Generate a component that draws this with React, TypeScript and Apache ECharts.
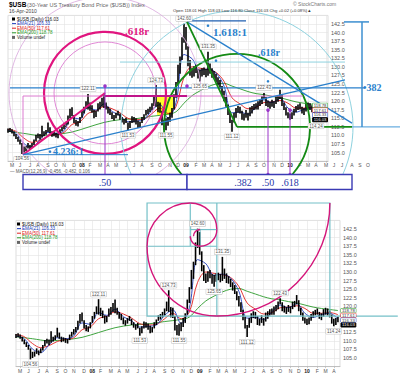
import React, { useEffect, useRef } from 'react';
import * as echarts from 'echarts';

// ---------------- DATA ----------------
// weekly ranges of $USB, week 0 = 20-Apr-2007, week 156 = 16-Apr-2010
const weekLow = [
  110.8, 111.0, 110.6, 109.8, 109.0, 108.2, 107.4, 104.6, 105.0, 105.4,
  106.2, 105.8, 106.4, 107.2, 108.4, 109.2, 108.8, 109.4, 109.8, 110.2,
  111.0, 110.6, 109.6, 109.8, 109.4, 109.2, 110.2, 111.2, 111.8, 112.4,
  113.2, 115.0, 115.6, 113.6, 112.8, 112.6, 113.6, 115.2, 116.4, 117.8,
  117.6, 117.2, 116.6, 115.0, 115.4, 117.0, 117.6, 118.4, 118.0, 117.6,
  116.4, 116.0, 114.8, 114.4, 115.0, 115.8, 114.6, 113.8, 113.2, 113.6,
  111.5, 112.2, 113.6, 113.8, 113.2, 112.2, 112.4, 113.6, 114.6, 115.8,
  116.2, 116.8, 117.4, 118.6, 118.4, 116.8, 116.6, 113.0, 111.6, 111.5,
  112.8, 114.0, 115.2, 117.6, 121.0, 125.0, 128.0, 132.0, 137.0, 135.0,
  130.2, 127.4, 126.8, 127.2, 128.2, 126.6, 125.7, 127.2, 127.6, 127.0,
  127.4, 128.0, 126.8, 126.6, 125.6, 124.6, 123.6, 121.8, 120.0, 118.4,
  116.0, 113.6, 111.1, 113.8, 115.2, 116.6, 116.4, 114.6, 114.4, 115.2,
  114.4, 115.6, 116.4, 117.4, 117.6, 117.6, 118.6, 119.2, 120.6, 118.6,
  118.2, 117.8, 118.4, 118.0, 119.2, 119.8, 120.6, 118.6, 117.4, 115.8,
  115.0, 114.6, 114.8, 115.8, 116.8, 117.4, 117.6, 116.4, 116.0, 117.0,
  117.6, 117.4, 116.8, 115.0, 114.2, 114.6, 115.4,
];
const weekHigh = [
  112.0, 112.2, 111.8, 111.2, 110.4, 109.6, 108.8, 107.8, 106.8, 106.9,
  107.8, 107.2, 107.8, 108.8, 110.2, 110.6, 110.4, 112.8, 111.2, 111.6,
  113.8, 112.4, 111.2, 111.0, 110.8, 110.5, 111.8, 112.6, 113.4, 114.0,
  115.8, 117.8, 118.2, 116.0, 114.6, 114.2, 115.4, 117.2, 118.4, 120.0,
  122.1, 119.6, 118.8, 117.4, 117.2, 119.4, 119.8, 121.0, 122.0, 119.6,
  118.4, 117.8, 116.8, 116.0, 116.6, 117.2, 116.4, 115.4, 114.8, 115.2,
  113.8, 114.2, 115.6, 115.4, 115.0, 114.4, 114.0, 115.4, 116.2, 117.4,
  117.8, 118.4, 119.4, 121.4, 124.7, 119.8, 119.6, 117.2, 114.6, 115.0,
  115.4, 116.6, 118.0, 122.0, 125.6, 130.6, 133.0, 138.6, 142.6, 141.6,
  136.0, 132.0, 129.6, 130.2, 130.6, 129.4, 129.2, 129.6, 129.8, 129.4,
  134.4, 131.0, 129.6, 128.8, 128.0, 127.0, 126.2, 124.4, 123.0, 121.2,
  119.0, 117.0, 114.6, 116.6, 118.0, 118.6, 118.4, 117.2, 116.4, 117.4,
  116.6, 118.2, 118.6, 119.2, 119.4, 120.0, 120.4, 121.4, 122.4, 121.2,
  120.2, 119.8, 120.4, 120.0, 121.4, 121.6, 123.3, 121.8, 119.6, 118.2,
  116.8, 116.4, 116.8, 117.8, 118.6, 119.0, 119.4, 118.4, 118.0, 119.2,
  119.6, 119.4, 118.8, 117.6, 116.4, 116.6, 117.0,
];
// moving averages: [week, value]
const ema21 = [
  [0, 111.4], [4, 110.6], [8, 107.6], [12, 106.6], [16, 108.8], [20, 110.9], [24, 110.6],
  [28, 111.4], [32, 115.2], [36, 114.8], [40, 118.2], [44, 117.4], [48, 119.2], [52, 117.0],
  [56, 115.8], [60, 114.0], [64, 114.2], [68, 114.6], [72, 117.4], [76, 119.0], [80, 115.0],
  [84, 119.6], [88, 133.6], [92, 132.4], [96, 129.0], [100, 129.4], [104, 128.2], [108, 124.4],
  [112, 116.6], [116, 116.8], [120, 116.2], [124, 118.4], [128, 120.4], [132, 119.6],
  [136, 120.8], [140, 118.0], [144, 116.8], [148, 117.6], [152, 118.0], [156, 116.3],
];
const ema50 = [
  [0, 111.8], [4, 111.2], [8, 109.2], [12, 108.0], [16, 108.6], [20, 109.8], [24, 110.4],
  [28, 110.9], [32, 113.2], [36, 114.0], [40, 116.4], [44, 117.2], [48, 118.4], [52, 117.8],
  [56, 116.6], [60, 115.0], [64, 114.6], [68, 114.8], [72, 116.4], [76, 118.0], [80, 116.4],
  [84, 118.4], [88, 127.0], [92, 130.0], [96, 129.6], [100, 129.2], [104, 128.4], [108, 125.8],
  [112, 121.0], [116, 119.2], [120, 117.8], [124, 118.2], [128, 119.6], [132, 119.8],
  [136, 120.2], [140, 119.4], [144, 118.0], [148, 118.0], [152, 118.2], [156, 117.6],
];
const ema200 = [
  [0, 111.2], [8, 110.6], [16, 110.0], [24, 110.3], [32, 111.0], [40, 112.4], [48, 113.8],
  [56, 114.6], [64, 114.9], [72, 115.6], [80, 116.2], [84, 116.9], [88, 119.4], [92, 121.6],
  [96, 123.0], [100, 124.2], [104, 125.0], [108, 125.2], [112, 124.4], [116, 123.6],
  [120, 122.8], [124, 122.2], [128, 121.9], [132, 121.4], [136, 121.0], [140, 120.4],
  [144, 119.8], [148, 119.4], [152, 119.1], [156, 118.8],
];
const monthTickWeeks = [2, 6, 11, 15, 20, 24, 28, 33, 37, 41, 46, 50, 54, 59, 63, 67, 72, 76, 81, 85,
  89, 94, 98, 102, 106, 111, 115, 120, 124, 128, 133, 137, 141, 146, 150, 154, 159];
const monthTickLabels = ['M', 'J', 'J', 'A', 'S', 'O', 'N', 'D', '08', 'F', 'M', 'A', 'M', 'J', 'J', 'A', 'S', 'O', 'N', 'D',
  '09', 'F', 'M', 'A', 'M', 'J', 'J', 'A', 'S', 'O', 'N', 'D', '10', 'F', 'M', 'A', 'M'];
const futureMonthWeeks = [163, 167, 172, 176, 180];
const futureMonthLabels = ['J', 'J', 'A', 'S', 'O'];
const extremes = [
  { w: 7, p: 104.6, text: '104.56', up: false },
  { w: 40, p: 122.1, text: '122.11', up: true },
  { w: 60, p: 111.5, text: '111.53', up: false },
  { w: 74, p: 124.7, text: '124.73', up: true },
  { w: 79, p: 111.5, text: '111.55', up: false },
  { w: 88, p: 142.6, text: '142.60', up: true },
  { w: 96, p: 125.7, text: '125.65', up: false },
  { w: 100, p: 134.4, text: '131.35', up: true },
  { w: 112, p: 111.1, text: '111.12', up: false },
  { w: 128, p: 122.4, text: '122.43', up: true },
  { w: 154, p: 114.2, text: '114.24', up: false },
];
const lastValues = [
  { name: 'EMA(200)', v: 118.78, color: '#2a9a2a' },
  { name: 'EMA(50)', v: 117.61, color: '#e02020' },
  { name: 'EMA(21)', v: 116.33, color: '#2040c0' },
  { name: '$USB', v: 116.03, color: '#000000' },
];
// price ticks hidden behind the last-value flags on the lower chart
const lowerHiddenTicks = [117.5, 115];
// Fibonacci drawing anchors (week, price) on the upper chart
const fibLow = [7.5, 104.4];
const fibMarch = [48.5, 122.4];
const fibTop = [89.5, 143.1];
const fibPivot = [114.5, 112.5];
// golden rectangle on the lower chart (week, price)
const spiralCornerA = [63.5, 150.06];
const spiralCornerB = [152.1, 117.2];

// ---------------- STYLE ----------------
const SANS = 'Liberation Sans';
const SERIF = 'Liberation Serif';
const GRID_C = '#e3e3e3';
const C_MAG = '#e0157f';
const C_BLUE = '#2a80cc';
const C_GREEN = '#148a14';
const C_CYAN = '#8ed2df';
const C_PURPLE = '#9a35c8';
const C_PINK = '#dc7ad0';
const C_BOX = '#3a3ab4';

const tickMap = new Map<number, string>(monthTickWeeks.map((w, i) => [w, monthTickLabels[i]]));
const upperCats = Array.from({ length: 161 }, (_, i) => String(i));
const lowerCats = Array.from({ length: 158 }, (_, i) => String(i));

function xAxisFor(gridIndex: number, cats: string[]) {
  return {
    type: 'category', gridIndex, data: cats, boundaryGap: false,
    axisLine: { show: true, lineStyle: { color: '#aaa', width: 0.6 } },
    axisTick: { show: true, interval: (i: number) => tickMap.has(i), length: 1.5, lineStyle: { color: '#aaa', width: 0.6 } },
    axisLabel: {
      interval: (i: number) => tickMap.has(i),
      formatter: (_v: string, i: number) => {
        const s = tickMap.get(i) || '';
        return /^\d\d$/.test(s) ? `{y|${s}}` : s;
      },
      fontSize: 5, color: '#555', margin: 1.5, fontFamily: SANS,
      rich: { y: { fontWeight: 'bold', fontSize: 5, color: '#222', fontFamily: SANS } },
    },
    splitLine: { show: true, interval: (i: number) => tickMap.has(i), lineStyle: { color: GRID_C, width: 0.6 } },
  };
}
function yAxisFor(gridIndex: number, hidden: number[]) {
  return {
    type: 'value', gridIndex, position: 'right', min: 102.5, max: 145, interval: 2.5,
    axisLine: { show: false }, axisTick: { show: false },
    axisLabel: {
      fontSize: 5.5, color: '#555', margin: 3, fontFamily: SANS,
      formatter: (v: number) => (hidden.some((h) => Math.abs(h - v) < 1e-6) ? '' : v.toFixed(1)),
      showMinLabel: false, showMaxLabel: false,
    },
    splitLine: { show: true, lineStyle: { color: GRID_C, width: 0.6 } },
  };
}
function barSeries(idx: number) {
  return {
    type: 'custom', xAxisIndex: idx, yAxisIndex: idx, z: 5, silent: true,
    data: weekLow.map((lo, i) => [i, lo, weekHigh[i]]),
    encode: { x: 0, y: [1, 2] },
    renderItem: (_p: any, api: any) => {
      const a = api.coord([api.value(0), api.value(1)]);
      const b = api.coord([api.value(0), api.value(2)]);
      return { type: 'line', shape: { x1: a[0], y1: a[1], x2: b[0], y2: b[1] }, style: { stroke: '#000', lineWidth: 1.6 } };
    },
  };
}
function emaSeries(idx: number, data: number[][], color: string) {
  return {
    type: 'line', xAxisIndex: idx, yAxisIndex: idx, data, smooth: 0.35, symbol: 'none', z: 4, silent: true,
    lineStyle: { color, width: 0.9 },
  };
}

export default function App() {
  const ref = useRef<HTMLDivElement>(null);
  useEffect(() => {
    const chart = echarts.init(ref.current!, null, { renderer: 'svg' });
    chart.setOption({
      animation: false,
      backgroundColor: '#ffffff',
      grid: [
        { left: 8, top: 15.4, width: 320, height: 145.8, show: true, borderColor: '#c8c8c8', borderWidth: 0.6 },
        { left: 16, top: 220.4, width: 324, height: 146.2, show: true, borderColor: '#c8c8c8', borderWidth: 0.6 },
      ],
      xAxis: [xAxisFor(0, upperCats), xAxisFor(1, lowerCats)],
      yAxis: [yAxisFor(0, []), yAxisFor(1, lowerHiddenTicks)],
      series: [
        emaSeries(0, ema200, '#2a9a2a'), emaSeries(0, ema50, '#e02020'), emaSeries(0, ema21, '#2040c0'), barSeries(0),
        emaSeries(1, ema200, '#2a9a2a'), emaSeries(1, ema50, '#e02020'), emaSeries(1, ema21, '#2040c0'), barSeries(1),
      ],
    });

    const mk = (gi: number, wMax: number) => {
      const a = chart.convertToPixel({ gridIndex: gi }, [0, 140]) as number[];
      const b = chart.convertToPixel({ gridIndex: gi }, [wMax, 105]) as number[];
      return (w: number, p: number) => [a[0] + (b[0] - a[0]) * w / wMax, a[1] + (b[1] - a[1]) * (p - 140) / (105 - 140)];
    };
    const U = mk(0, 160);
    const L = mk(1, 157);

    const G: any[] = [];
    const line = (p1: number[], p2: number[], stroke: string, lw: number, z = 10) =>
      G.push({ type: 'line', silent: true, z, shape: { x1: p1[0], y1: p1[1], x2: p2[0], y2: p2[1] }, style: { stroke, lineWidth: lw } });
    const txt = (x: number, y: number, s: string, o: any) =>
      G.push({ type: 'text', silent: true, z: o.z ?? 20, x, y, style: { text: s, fill: o.fill ?? '#333', fontSize: o.size ?? 6, fontFamily: o.family ?? SANS, fontWeight: o.weight ?? 'normal', align: o.align ?? 'left', verticalAlign: o.va ?? 'middle', textAlign: o.align ?? 'left', textVerticalAlign: o.va ?? 'middle', backgroundColor: o.bg, borderColor: o.border, borderWidth: o.border ? 0.5 : 0, padding: o.pad } });
    const dot = (p: number[], fill: string, r = 1.8) => G.push({ type: 'circle', silent: true, z: 12, shape: { cx: p[0], cy: p[1], r }, style: { fill } });
    const circ = (c: number[], r: number, stroke: string, lw: number, yClip: number, z = 9) => {
      if (c[1] + r <= yClip) {
        G.push({ type: 'circle', silent: true, z, shape: { cx: c[0], cy: c[1], r }, style: { fill: 'none', stroke, lineWidth: lw } });
      } else {
        const phi = Math.asin(Math.max(-1, Math.min(1, (yClip - c[1]) / r)));
        G.push({ type: 'arc', silent: true, z, shape: { cx: c[0], cy: c[1], r, startAngle: Math.PI - phi, endAngle: 2 * Math.PI + phi, clockwise: true }, style: { fill: 'none', stroke, lineWidth: lw } });
      }
    };

    // ---------- upper chart annotations ----------
    const A = U(fibLow[0], fibLow[1]);
    const B = U(fibMarch[0], fibMarch[1]);
    const T = U(fibTop[0], fibTop[1]);
    const P = U(fibPivot[0], fibPivot[1]);
    const boxTop = 174.5, boxBot = 189.5;

    // yellow zone
    const y1 = U(74.5, 121.2), y2 = U(82.5, 116.0);
    G.push({ type: 'rect', silent: true, z: 1, shape: { x: y1[0], y: y1[1], width: y2[0] - y1[0], height: y2[1] - y1[1] }, style: { fill: '#ffff2a' } });

    circ(B, 96, '#dcb0e0', 0.9, boxBot);
    circ(B, 51, C_PINK, 0.9, boxBot);
    circ(B, 61, C_MAG, 2.2, boxBot);
    circ(P, 116, C_CYAN, 1, boxTop);
    circ(P, 73, C_GREEN, 1.8, boxTop);

    // pink frame
    line(U(fibLow[0], 121.5), U(147.5, 121.5), C_PINK, 1);
    line(U(fibLow[0], 121.5), A, C_PINK, 1);
    line(U(fibMarch[0], 121.5), U(fibTop[0], 121.5), '#c0148a', 2);
    line(A, B, C_MAG, 2);
    // blue fib lines
    line(U(1, 123.85), U(178.5, 123.85), C_BLUE, 1.3);
    line(A, U(168.5, 126.2), C_BLUE, 1.3);
    line(A, U(60, fibLow[1]), C_BLUE, 1);
    line(T, U(172, 113.6), C_BLUE, 1.3);
    line(U(fibTop[0], 143.4), U(119, 143.4), '#1f5fb0', 1.2);
    line(U(56, 131.4), U(168.5, 131.4), C_CYAN, 1);
    // green
    line(T, P, C_GREEN, 1.8);
    line(P, U(172, fibPivot[1]), C_GREEN, 1.8);
    line(U(172, fibPivot[1]), U(196, fibPivot[1]), '#6aaee0', 1.2);
    // bracket
    line(U(168, fibTop[1]), U(180.5, fibTop[1]), '#3c8fd0', 1.5);
    line(U(177, fibTop[1]), U(177, fibPivot[1]), '#3c8fd0', 1.5);
    // purple verticals
    const pv = [[fibMarch[0], 124.4], [130, 117.4], [141, 117.4]];
    pv.forEach(([w, p], i) => {
      const t = U(w, p);
      line(t, [t[0], boxTop], C_PURPLE, 1);
      dot(t, C_PURPLE);
      if (i > 0) dot([t[0], boxTop], C_PURPLE);
    });
    dot(U(fibTop[0], 124.4), C_PURPLE);
    dot(U(21, 105.3), C_BLUE, 1.3);
    dot(U(100, 142.0), C_BLUE, 1.3);
    dot(U(104, 131.8), C_BLUE, 1.3);
    dot(U(130, 125.8), C_BLUE, 1.3);

    // ratio box
    const bx0 = U(fibLow[0], 0)[0], bx1 = U(fibTop[0], 0)[0], bx2 = U(172, 0)[0];
    G.push({ type: 'rect', silent: true, z: 15, shape: { x: bx0, y: boxTop, width: bx1 - bx0, height: boxBot - boxTop }, style: { fill: '#fff', stroke: C_BOX, lineWidth: 1.4 } });
    G.push({ type: 'rect', silent: true, z: 15, shape: { x: bx1, y: boxTop, width: bx2 - bx1, height: boxBot - boxTop }, style: { fill: '#fff', stroke: C_BOX, lineWidth: 1.4 } });
    const boxText = { fill: '#2636a8', size: 10, family: SERIF, align: 'center', z: 21 };
    txt(U(fibMarch[0], 0)[0], 182.5, '.50', boxText);
    txt(U(117.5, 0)[0], 182.5, '.382', boxText);
    txt(U(130, 0)[0], 182.5, '.50', boxText);
    txt(U(141, 0)[0], 182.5, '.618', boxText);

    // labels
    const t1 = U(58.5, 140.5); txt(t1[0], t1[1], '.618r', { fill: C_MAG, size: 11, family: SERIF, weight: 'bold' });
    const t2 = U(102.5, 140.2); txt(t2[0], t2[1], '1.618:1', { fill: C_BLUE, size: 11, family: SERIF, weight: 'bold' });
    const t3 = U(125, 134.2); txt(t3[0], t3[1], '.618r', { fill: C_BLUE, size: 10, family: SERIF, weight: 'bold' });
    const t4 = U(21, 105.4); txt(t4[0] + 3, t4[1], '4.236:1', { fill: C_BLUE, size: 10, family: SERIF, weight: 'bold' });
    const t5 = U(177.5, 123.85); txt(t5[0], t5[1], '•382', { fill: C_BLUE, size: 10, family: SERIF, weight: 'bold' });

    // extremes labels
    const extLabel = (conv: (w: number, p: number) => number[]) => extremes.forEach((e) => {
      const q = conv(e.w, e.p);
      txt(q[0], e.up ? q[1] - 5 : q[1] + 5, e.text, { fill: '#555', size: 4.5, align: 'center', bg: '#fff', border: '#bbb', pad: [0, 1], z: 18 });
    });
    extLabel(U);
    extLabel(L);

    // last value flags
    const flags = (conv: (w: number, p: number) => number[], wEnd: number, align: string, dx: number) => {
      let prevY = -99;
      lastValues.forEach((f) => {
        const q = conv(wEnd, f.v);
        const y = Math.max(q[1], prevY + 4.8);
        prevY = y;
        const black = f.color === '#000000';
        txt(q[0] + dx, y, f.v.toFixed(2), { fill: black ? '#fff' : '#333', size: 4.3, align, bg: black ? '#000' : '#fff', border: f.color, pad: [0, 1], z: 19 });
      });
    };
    flags(U, 160, 'right', -0.5);
    flags(L, 157, 'left', 1);

    // future month labels upper
    futureMonthWeeks.forEach((w, i) => {
      const q = U(w, 102.5);
      txt(q[0], q[1] + 4, futureMonthLabels[i], { fill: '#555', size: 5, align: 'center' });
    });

    // ---------- lower spiral ----------
    const S0 = L(spiralCornerA[0], spiralCornerA[1]);
    const S1 = L(spiralCornerB[0], spiralCornerB[1]);
    const X0 = S0[0], Y0 = S0[1], X1 = S1[0], Y1 = S1[1];
    const H = Y1 - Y0, W = X1 - X0;
    const s2 = W - H, s3 = H - s2, s4 = s2 - s3, s5 = s3 - s4, s6 = s4 - s5, s7 = s5 - s6;
    const C_TEAL = '#74c0c8';
    G.push({ type: 'rect', silent: true, z: 9, shape: { x: X0, y: Y0, width: W, height: H }, style: { fill: 'none', stroke: C_TEAL, lineWidth: 1.2 } });
    line([X1 - H, Y0], [X1 - H, Y1], C_TEAL, 1.2, 9);
    line([X0, Y1 - s2], [X0 + s2, Y1 - s2], C_TEAL, 1.2, 9);
    line([X0 + s3, Y0], [X0 + s3, Y0 + s3], C_TEAL, 1.2, 9);
    line([X0 + s3, Y0 + s4], [X0 + s2, Y0 + s4], C_TEAL, 1.2, 9);
    line([X0 + s2 - s5, Y0 + s4], [X0 + s2 - s5, Y0 + s3], C_TEAL, 1, 9);
    line([X1, Y1], [L(185, 117.2)[0], Y1], C_TEAL, 1.2, 9);
    const arc = (cx: number, cy: number, r: number, a0: number, a1: number) =>
      G.push({ type: 'arc', silent: true, z: 10, shape: { cx, cy, r, startAngle: a0, endAngle: a1, clockwise: true }, style: { fill: 'none', stroke: '#d4157a', lineWidth: 1.4 } });
    const PI = Math.PI;
    arc(X1 - H, Y0, H, 0, PI / 2);
    arc(X0 + s2, Y1 - s2, s2, PI / 2, PI);
    arc(X0 + s3, Y0 + s3, s3, PI, 1.5 * PI);
    arc(X0 + s3, Y0 + s4, s4, 1.5 * PI, 2 * PI);
    arc(X0 + s2 - s5, Y0 + s4, s5, 0, PI / 2);
    arc(X0 + s3 + s6, Y0 + s3 - s6, s6, PI / 2, PI);
    arc(X0 + s3 + s6, Y0 + s4 + s7, s7, PI, 1.5 * PI);

    // ---------- headers / legends ----------
    txt(9, 4.5, '$USB', { fill: '#000', size: 6.5, weight: 'bold' });
    txt(27, 4.5, '(30-Year US Treasury Bond Price ($USB)) Index', { fill: '#666', size: 5.5 });
    txt(9, 10.5, '16-Apr-2010', { fill: '#444', size: 5 });
    txt(173, 10.5, 'Open 118.01 High 118.03 Low 116.80 Close 116.03 Chg +0.02 (+0.08%)▲', { fill: '#333', size: 4.2 });
    txt(293, 4, '© StockCharts.com', { fill: '#777', size: 5 });
    txt(10, 171.2, '— MACD(12,26,9) -0.456, -0.482, 0.106', { fill: '#555', size: 4.5 });

    const legend = (x: number, y: number) => {
      const items = [
        { t: '$USB (Daily) 116.03', c: '#000', sq: true },
        { t: 'EMA(21) 116.33', c: '#2040c0', sq: false },
        { t: 'EMA(50) 117.61', c: '#e02020', sq: false },
        { t: 'EMA(200) 118.78', c: '#2a9a2a', sq: false },
        { t: 'Volume undef', c: '#666', sq: true },
      ];
      items.forEach((it, i) => {
        const yy = y + i * 4.6;
        if (it.sq) G.push({ type: 'rect', silent: true, z: 20, shape: { x, y: yy - 1.5, width: 3, height: 3 }, style: { fill: it.c } });
        else line([x, yy], [x + 4, yy], it.c, 1, 20);
        txt(x + 5, yy, it.t, { fill: i === 0 || i === 4 ? '#222' : it.c, size: 4.6 });
      });
    };
    legend(12, 19);
    legend(17, 224);

    chart.setOption({ graphic: { elements: G } });
    return () => chart.dispose();
  }, []);
  return <div ref={ref} style={{ position: 'absolute', left: 0, top: 0, width: 400, height: 379 }} />;
}
